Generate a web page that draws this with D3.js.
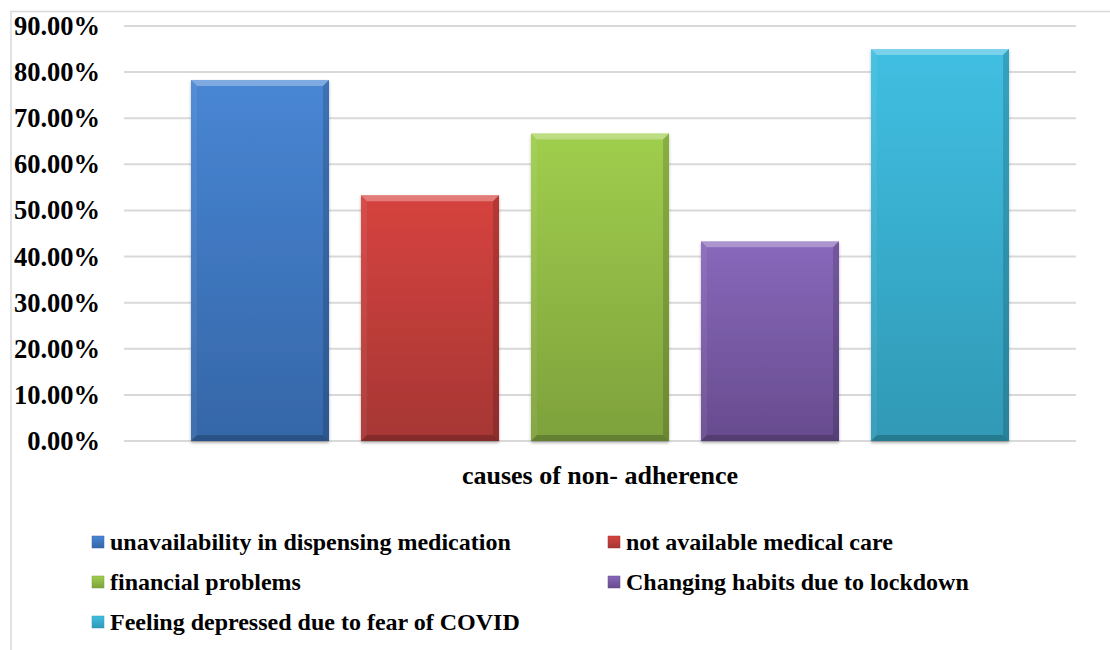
<!DOCTYPE html>
<html>
<head>
<meta charset="utf-8">
<script src="https://cdn.jsdelivr.net/npm/d3@7"></script>
<style>
  body { margin: 0; background: #fff; }
  text { font-family: "Liberation Serif", "Times New Roman", serif; font-weight: bold; fill: #000; }
</style>
</head>
<body>
<div id="chart"></div>
<script>
const causes = [
  "unavailability in dispensing medication",
  "not available medical care",
  "financial problems",
  "Changing habits due to lockdown",
  "Feeling depressed due to fear of COVID"
];
const percents = [0.783, 0.533, 0.667, 0.433, 0.85];
const tickValues = [0, 0.1, 0.2, 0.3, 0.4, 0.5, 0.6, 0.7, 0.8, 0.9];
const axisTitle = "causes of non- adherence";

// light top / dark bottom for each bar
const barColors = [
  ["#4886d4", "#3566a8"],
  ["#d6433f", "#a63634"],
  ["#a0ce4d", "#7ea13c"],
  ["#8868bb", "#674b8e"],
  ["#40bfe2", "#3099b5"]
];

const width = 1110, height = 650;
const plotLeft = 124, plotRight = 1076, plotTop = 26, plotBottom = 441;

const svg = d3.select("#chart").append("svg")
  .attr("width", width)
  .attr("height", height);

const defs = svg.append("defs");
barColors.forEach((c, i) => {
  const g = defs.append("linearGradient").attr("id", "g" + i)
    .attr("x1", 0).attr("y1", 0).attr("x2", 0).attr("y2", 1);
  g.append("stop").attr("offset", "0%").attr("stop-color", c[0]);
  g.append("stop").attr("offset", "100%").attr("stop-color", c[1]);
});
const shadow = defs.append("filter").attr("id", "shadow")
  .attr("x", "-10%").attr("y", "-10%").attr("width", "120%").attr("height", "120%");
shadow.append("feDropShadow").attr("dx", 0).attr("dy", 2).attr("stdDeviation", 1.5)
  .attr("flood-color", "#000").attr("flood-opacity", 0.3);

// outer chart border (only top & left visible)
svg.append("path")
  .attr("d", `M11,${height} L11,11.5 L${width},11.5`)
  .attr("fill", "none")
  .attr("stroke", "#d9d9d9")
  .attr("stroke-width", 1.5);

const x = d3.scaleBand()
  .domain(causes)
  .range([plotLeft, plotRight])
  .paddingInner(0.188)
  .paddingOuter(0.394);

const y = d3.scaleLinear()
  .domain([0, 0.9])
  .range([plotBottom, plotTop]);

// gridlines
svg.append("g")
  .selectAll("line")
  .data(tickValues)
  .join("line")
  .attr("x1", plotLeft).attr("x2", plotRight)
  .attr("y1", d => y(d)).attr("y2", d => y(d))
  .attr("stroke", "#d9d9d9")
  .attr("stroke-width", 2);

// y labels
svg.append("g")
  .attr("font-size", 26.5)
  .attr("text-anchor", "end")
  .selectAll("text")
  .data(tickValues)
  .join("text")
  .attr("x", 100)
  .attr("y", d => y(d))
  .attr("dy", "0.34em")
  .text(d => d3.format(".2%")(d));

// bars with bevel
const bev = 6;
const bars = svg.append("g")
  .selectAll("g")
  .data(percents)
  .join("g")
  .attr("filter", "url(#shadow)");

bars.append("rect")
  .attr("x", (d, i) => x(causes[i]))
  .attr("y", d => y(d))
  .attr("width", x.bandwidth())
  .attr("height", d => y(0) - y(d))
  .attr("fill", (d, i) => `url(#g${i})`);

const bevelPaths = (d, i) => {
  const x0 = x(causes[i]), x1 = x0 + x.bandwidth();
  const y0 = y(d), y1 = y(0);
  return [
    { p: `M${x0},${y0}L${x1},${y0}L${x1 - bev},${y0 + bev}L${x0 + bev},${y0 + bev}Z`, f: "#fff", o: 0.3 },
    { p: `M${x0},${y0}L${x0 + bev},${y0 + bev}L${x0 + bev},${y1 - bev}L${x0},${y1}Z`, f: "#fff", o: 0.06 },
    { p: `M${x1},${y0}L${x1 - bev},${y0 + bev}L${x1 - bev},${y1 - bev}L${x1},${y1}Z`, f: "#000", o: 0.15 },
    { p: `M${x0},${y1}L${x0 + bev},${y1 - bev}L${x1 - bev},${y1 - bev}L${x1},${y1}Z`, f: "#000", o: 0.2 }
  ];
};
bars.selectAll("path.bev")
  .data((d, i) => bevelPaths(d, i))
  .join("path")
  .attr("class", "bev")
  .attr("d", b => b.p)
  .attr("fill", b => b.f)
  .attr("fill-opacity", b => b.o);

// axis title
svg.append("text")
  .attr("x", (plotLeft + plotRight) / 2)
  .attr("y", 475)
  .attr("dy", "0.34em")
  .attr("text-anchor", "middle")
  .attr("font-size", 26)
  .text(axisTitle);

// legend
const legend = svg.append("g")
  .attr("font-size", 24)
  .selectAll("g")
  .data(causes)
  .join("g")
  .attr("transform", (d, i) => `translate(${i % 2 ? 608 : 92},${536 + Math.floor(i / 2) * 40})`);

legend.append("rect")
  .attr("width", 12).attr("height", 12)
  .attr("fill", (d, i) => `url(#g${i})`)
  .attr("stroke", (d, i) => barColors[i][1])
  .attr("stroke-width", 0.5);

legend.append("text")
  .attr("x", 18)
  .attr("y", 6)
  .attr("dy", "0.34em")
  .text(d => d);
</script>
</body>
</html>
